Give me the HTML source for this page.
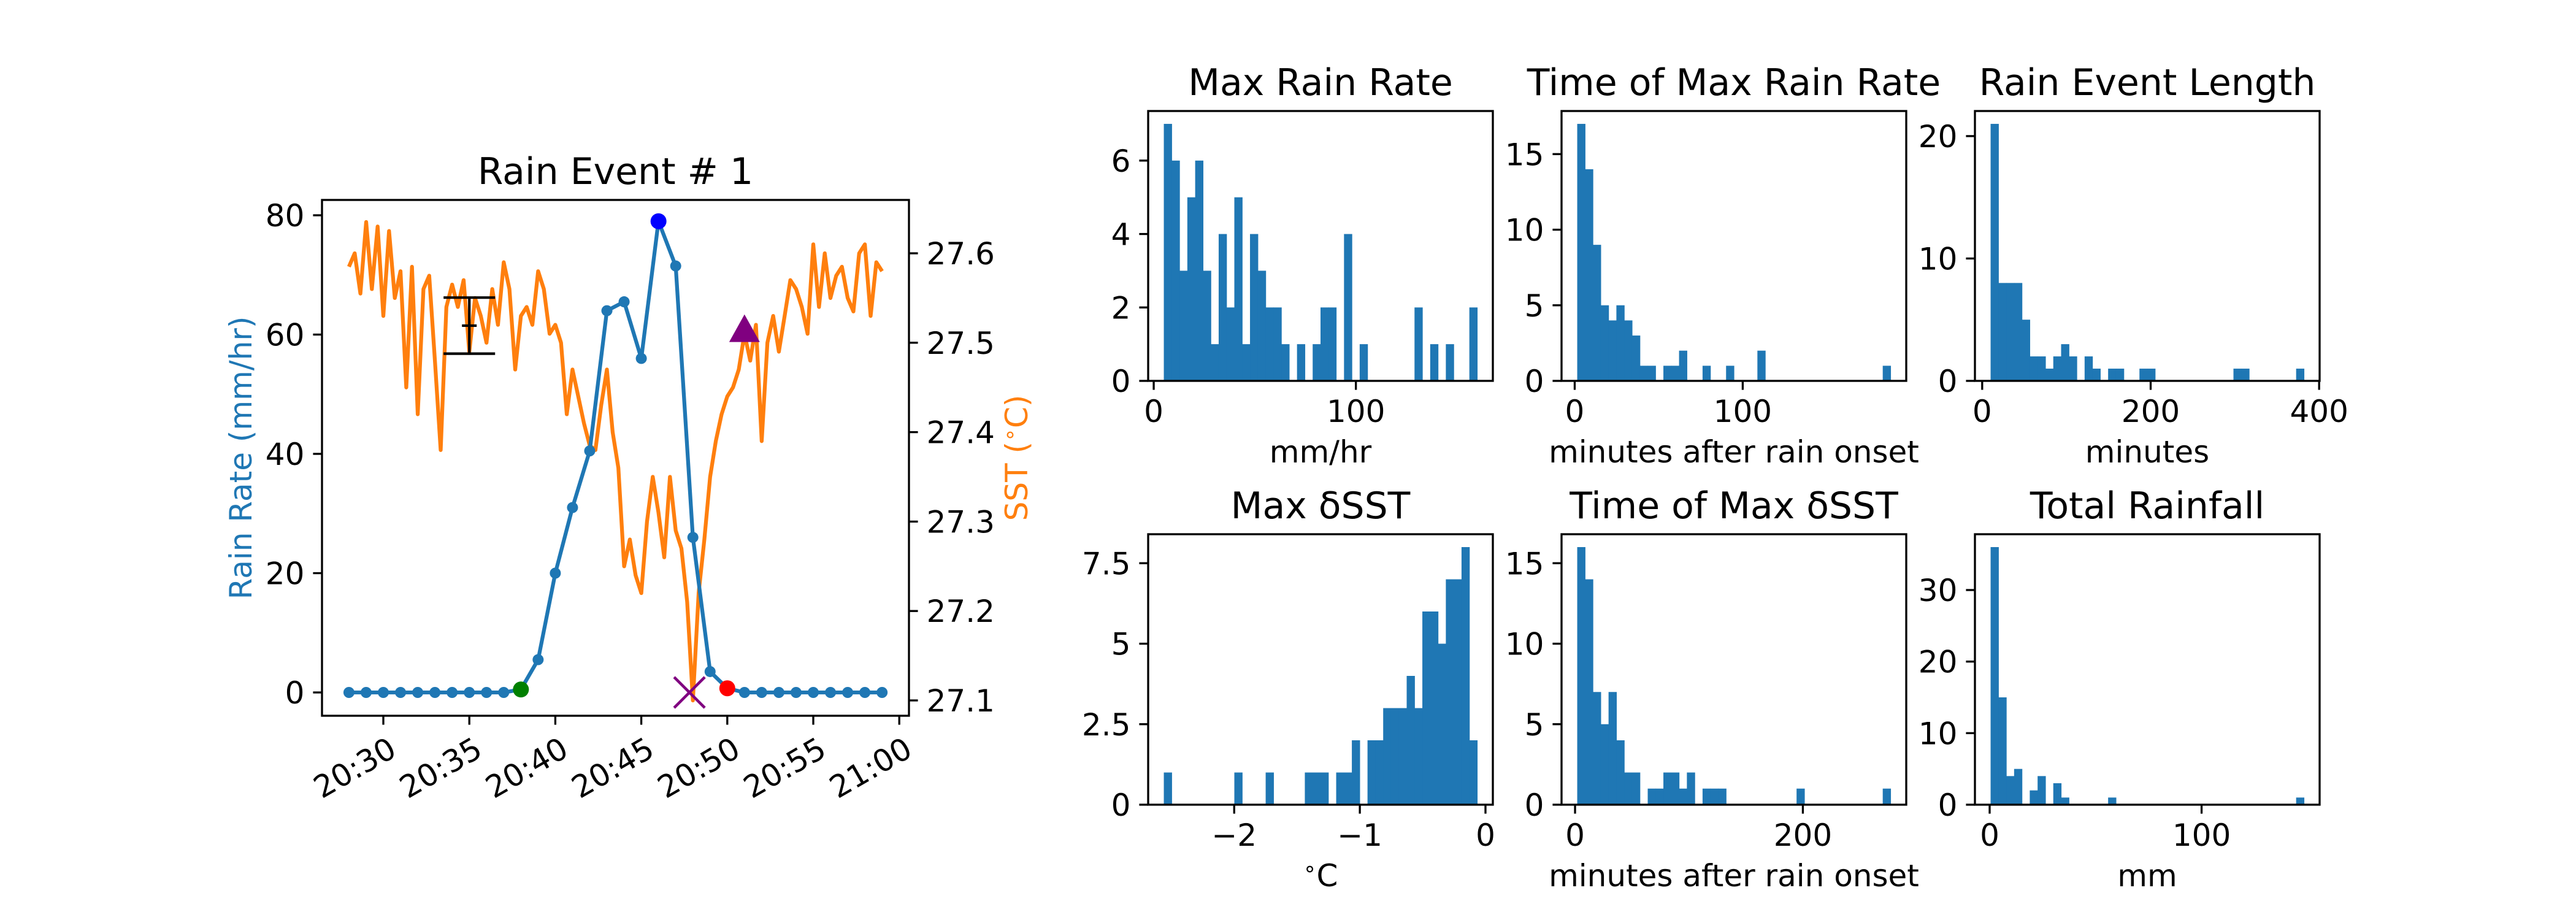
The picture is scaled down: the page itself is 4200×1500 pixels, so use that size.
<!DOCTYPE html>
<html><head><meta charset="utf-8"><title>Rain Event Analysis</title>
<style>
html,body{margin:0;padding:0;background:#fff;}
svg{display:block;font-family:"DejaVu Sans","Liberation Sans",sans-serif;}
</style></head>
<body>
<svg id="fig" width="4200" height="1500" viewBox="0 0 4200 1500" xmlns="http://www.w3.org/2000/svg">
<rect x="0" y="0" width="4200" height="1500" fill="#fff"/>
</svg>
<script>
// ===== Left chart data =====
const rainMinutes = [28,29,30,31,32,33,34,35,36,37,38,39,40,41,42,43,44,45,46,47,48,49,50,51,52,53,54,55,56,57,58,59];
const rainRate = [0,0,0,0,0,0,0,0,0,0,0.5,5.5,20,31,40.5,64,65.5,56,79,71.5,26,3.5,0.7,0,0,0,0,0,0,0,0,0];
const sstStartMinute = 28;
const sstStepMinute = 1/3;
const sstValues = [27.585,27.60,27.555,27.635,27.56,27.63,27.53,27.625,27.55,27.58,27.45,27.585,27.42,27.56,27.575,27.48,27.38,27.54,27.565,27.54,
27.57,27.49,27.55,27.53,27.50,27.56,27.52,27.59,27.56,27.47,27.53,27.54,27.52,27.58,27.56,27.51,27.52,27.50,27.42,27.47,
27.44,27.41,27.385,27.38,27.43,27.47,27.40,27.36,27.25,27.28,27.24,27.22,27.30,27.35,27.31,27.26,27.35,27.29,27.27,27.21,
27.10,27.22,27.28,27.35,27.39,27.42,27.44,27.45,27.47,27.51,27.48,27.52,27.39,27.50,27.53,27.49,27.53,27.57,27.56,27.54,
27.51,27.61,27.54,27.60,27.55,27.575,27.585,27.55,27.535,27.60,27.61,27.53,27.59,27.58];
const onsetPoint = [38, 0.5];
const peakPoint = [46, 79];
const endPoint = [50, 0.7];
const minSstPoint = [47.8, 0];
const recoveryPoint = [51, 60.5];
const errCenter = [35, 61.5];
const errHalf = [4.7];
const rainTicks = [0,20,40,60,80];
const sstTicks = [27.1,27.2,27.3,27.4,27.5,27.6];
const timeTicks = [30,35,40,45,50,55,60];
const timeTickLabels = ["20:30","20:35","20:40","20:45","20:50","20:55","21:00"];

// ===== Histogram data =====
const maxRainCounts = [7,6,3,5,6,3,1,4,2,5, 1,4,3,2,2,1,0,1,0,1, 2,2,0,4,0,1,0,0,0,0, 0,0,2,0,1,0,1,0,0,2];
const maxRainRange = [5,160];
const timeMaxRainCounts = [17,14,9,5,4,5,4,3,1,1, 0,1,1,2,0,0,1,0,0,1, 0,0,0,2,0,0,0,0,0,0, 0,0,0,0,0,0,0,0,0,1];
const timeMaxRainRange = [1.5,188];
const eventLengthCounts = [21,8,8,8,5,2,2,1,2,3, 2,0,2,1,0,1,1,0,0,1, 1,0,0,0,0,0,0,0,0,0, 0,1,1,0,0,0,0,0,0,1];
const eventLengthRange = [10,382];
const maxDsstCounts = [1,0,0,0,0,0,0,0,0,1, 0,0,0,1,0,0,0,0,1,1, 1,0,1,1,2,0,2,2,3,3, 3,4,3,6,6,5,7,7,8,2];
const maxDsstRange = [-2.56,-0.066];
const timeMaxDsstCounts = [16,14,7,5,7,4,2,2,0,1, 1,2,2,1,2,0,1,1,1,0, 0,0,0,0,0,0,0,0,1,0, 0,0,0,0,0,0,0,0,0,1];
const timeMaxDsstRange = [1.9,277];
const totalRainCounts = [36,15,4,5,0,2,4,0,3,1, 0,0,0,0,0,1,0,0,0,0, 0,0,0,0,0,0,0,0,0,0, 0,0,0,0,0,0,0,0,0,1];
const totalRainRange = [0.45,148.3];

const xTicksMaxRain = [0,100];
const yTicksMaxRain = [0,2,4,6];
const xTicksTimeRain = [0,100];
const yTicksTimeRain = [0,5,10,15];
const xTicksLength = [0,200,400];
const yTicksLength = [0,10,20];
const xTicksDsst = [-2,-1,0];
const yTicksDsst = [0,2.5,5,7.5];
const xTicksTimeDsst = [0,200];
const yTicksTimeDsst = [0,5,10,15];
const xTicksTotal = [0,100];
const yTicksTotal = [0,10,20,30];

const NS = "http://www.w3.org/2000/svg";
const svg = document.getElementById("fig");
const BLUE = "#1f77b4", ORANGE = "#ff7f0e";
const FS = 50, TFS = 60, LW = 3.3, TL = 14.6;

function mk(tag, attrs, parent) {
  const e = document.createElementNS(NS, tag);
  for (const k in attrs) e.setAttribute(k, attrs[k]);
  (parent || svg).appendChild(e);
  return e;
}
function txt(str, attrs, parent) {
  const e = mk("text", attrs, parent);
  e.textContent = str;
  return e;
}
function fmt(v) {
  let s = (Math.abs(v % 1) > 1e-9) ? v.toFixed(1) : String(v);
  return s.replace("-", "\u2212");
}

// ===== Left chart =====
(function () {
  const L = 525, R = 1482, T = 326, B = 1167;
  const xT = m => 625 + (m - 30) * 28.04;
  const yR = r => 1129 - r * 9.725;
  const yS = s => 1142 - (s - 27.1) * 1458;
  const g = mk("g", {});
  
  

  let d = "";
  sstValues.forEach((v, i) => {
    const x = xT(sstStartMinute + i * sstStepMinute), y = yS(v);
    d += (i ? "L" : "M") + x.toFixed(1) + "," + y.toFixed(1);
  });
  const sst = mk("path", { d: d, fill: "none", stroke: ORANGE, "stroke-width": 6.25, "stroke-linejoin": "round" }, g);
  
  

  d = "";
  rainRate.forEach((v, i) => { d += (i ? "L" : "M") + xT(rainMinutes[i]).toFixed(1) + "," + yR(v).toFixed(1); });
  const rl = mk("path", { d: d, fill: "none", stroke: BLUE, "stroke-width": 6.25, "stroke-linejoin": "round" }, g);
  
  
  rainRate.forEach((v, i) => {
    const c = mk("circle", { cx: xT(rainMinutes[i]), cy: yR(v), r: 9, fill: BLUE }, g);
    
    
  });

  const ex = xT(errCenter[0]), eyT = yR(errCenter[1] + errHalf[0]), eyB = yR(errCenter[1] - errHalf[0]);
  const eb = mk("g", { stroke: "#000", "stroke-width": 4.2 }, g);
  
  
  mk("line", { x1: ex, y1: eyT, x2: ex, y2: eyB }, eb);
  mk("line", { x1: ex - 42, y1: eyT, x2: ex + 42, y2: eyT }, eb);
  mk("line", { x1: ex - 42, y1: eyB, x2: ex + 42, y2: eyB }, eb);
  const cy = yR(errCenter[1]);
  mk("line", { x1: ex - 12, y1: cy, x2: ex + 12, y2: cy }, eb);

  const gm = mk("circle", { cx: xT(onsetPoint[0]), cy: yR(onsetPoint[1]), r: 13, fill: "#008000" }, g);
  
  
  const bm = mk("circle", { cx: xT(peakPoint[0]), cy: yR(peakPoint[1]), r: 13, fill: "#0000ff" }, g);
  
  
  const rm = mk("circle", { cx: xT(endPoint[0]), cy: yR(endPoint[1]), r: 13, fill: "#ff0000" }, g);
  
  
  const xx = xT(minSstPoint[0]), xy = yR(minSstPoint[1]);
  const xm = mk("path", { d: `M${xx-25},${xy-25}L${xx+25},${xy+25}M${xx-25},${xy+25}L${xx+25},${xy-25}`, stroke: "#800080", "stroke-width": 4.5, fill: "none" }, g);
  
  
  const tx = xT(recoveryPoint[0]), ty = yR(recoveryPoint[1]);
  const tm = mk("path", { d: `M${tx},${ty-28}L${tx+25},${ty+17}L${tx-25},${ty+17}Z`, fill: "#800080" }, g);
  
  

  const fr = mk("rect", { x: L, y: T, width: R - L, height: B - T, fill: "none", stroke: "#000", "stroke-width": LW }, g);
  
  

  rainTicks.forEach(v => {
    const y = yR(v);
    mk("line", { x1: L - TL, y1: y, x2: L, y2: y, stroke: "#000", "stroke-width": LW }, g);
    const t = txt(String(v), { x: L - TL - 14, y: y + 18, "font-size": FS, "text-anchor": "end" }, g);
    
    
  });
  sstTicks.forEach(v => {
    const y = yS(v);
    mk("line", { x1: R, y1: y, x2: R + TL, y2: y, stroke: "#000", "stroke-width": LW }, g);
    const t = txt(v.toFixed(1), { x: R + TL + 14, y: y + 18, "font-size": FS, "text-anchor": "start" }, g);
    
    
  });
  timeTicks.forEach((v, i) => {
    const x = xT(v);
    mk("line", { x1: x, y1: B, x2: x, y2: B + TL, stroke: "#000", "stroke-width": LW }, g);
    const t = txt(timeTickLabels[i], { x: x + 6, y: B + 32, "font-size": FS, "text-anchor": "end", "dominant-baseline": "hanging", transform: `rotate(-30 ${x + 6} ${B + 32})` }, g);
    
    
  });

  const title = txt("Rain Event # 1", { x: (L + R) / 2, y: 300, "font-size": TFS, "text-anchor": "middle" }, g);
  
  
  const yl = txt("Rain Rate (mm/hr)", { x: 410, y: (T + B) / 2, "font-size": FS, "text-anchor": "middle", fill: BLUE, transform: `rotate(-90 410 ${(T + B) / 2})` }, g);
  
  
  const sl = mk("text", { x: 1675, y: (T + B) / 2, "font-size": FS, "text-anchor": "middle", fill: ORANGE, transform: `rotate(-90 1675 ${(T + B) / 2})` }, g);
  
  
  sl.appendChild(document.createTextNode("SST ("));
  const sup = mk("tspan", { "font-size": 35, dy: -17 }, sl); sup.textContent = "\u2218";
  const rest = mk("tspan", { dy: 17 }, sl); rest.textContent = "C)";
})();

// ===== Histograms =====
function hist(cfg) {
  const { L, R, T, B, counts, range, xticks, yticks, title, xlabel, name } = cfg;
  const g = mk("g", {});
  
  
  const lo = range[0], hi = range[1], span = hi - lo;
  const x0 = lo - 0.05 * span, x1 = hi + 0.05 * span;
  const ymax = Math.max(...counts) * 1.05;
  const xs = v => L + (v - x0) / (x1 - x0) * (R - L);
  const ys = v => B - v / ymax * (B - T);
  const bw = span / counts.length;
  counts.forEach((c, i) => {
    if (c <= 0) return;
    const xa = xs(lo + i * bw), xb = xs(lo + (i + 1) * bw);
    const r = mk("rect", { x: xa, y: ys(c), width: xb - xa + 0.6, height: B - ys(c), fill: BLUE }, g);
    
    
  });
  const fr = mk("rect", { x: L, y: T, width: R - L, height: B - T, fill: "none", stroke: "#000", "stroke-width": LW }, g);
  
  
  xticks.forEach(v => {
    const x = xs(v);
    mk("line", { x1: x, y1: B, x2: x, y2: B + TL, stroke: "#000", "stroke-width": LW }, g);
    const t = txt(fmt(v), { x: x, y: B + 67, "font-size": FS, "text-anchor": "middle" }, g);
    
    
  });
  yticks.forEach(v => {
    const y = ys(v);
    mk("line", { x1: L - TL, y1: y, x2: L, y2: y, stroke: "#000", "stroke-width": LW }, g);
    const t = txt(fmt(v), { x: L - TL - 14, y: y + 18, "font-size": FS, "text-anchor": "end" }, g);
    
    
  });
  const tt = txt(title, { x: (L + R) / 2, y: T - 26, "font-size": TFS, "text-anchor": "middle" }, g);
  
  
  const xl = mk("text", { x: (L + R) / 2, y: B + 133, "font-size": FS, "text-anchor": "middle" }, g);
  
  
  if (xlabel === "degC") {
    const s = mk("tspan", { "font-size": 35, dy: -17 }, xl); s.textContent = "\u2218";
    const c = mk("tspan", { dy: 17 }, xl); c.textContent = "C";
  } else {
    xl.textContent = xlabel;
  }
}
const C1 = [1872, 2434], C2 = [2546, 3108], C3 = [3220, 3782];
const R1 = [181, 621], R2 = [871, 1312];
hist({ L: C1[0], R: C1[1], T: R1[0], B: R1[1], counts: maxRainCounts, range: maxRainRange, xticks: xTicksMaxRain, yticks: yTicksMaxRain, title: "Max Rain Rate", xlabel: "mm/hr", name: "max-rain-rate-histogram" });
hist({ L: C2[0], R: C2[1], T: R1[0], B: R1[1], counts: timeMaxRainCounts, range: timeMaxRainRange, xticks: xTicksTimeRain, yticks: yTicksTimeRain, title: "Time of Max Rain Rate", xlabel: "minutes after rain onset", name: "time-of-max-rain-histogram" });
hist({ L: C3[0], R: C3[1], T: R1[0], B: R1[1], counts: eventLengthCounts, range: eventLengthRange, xticks: xTicksLength, yticks: yTicksLength, title: "Rain Event Length", xlabel: "minutes", name: "rain-event-length-histogram" });
hist({ L: C1[0], R: C1[1], T: R2[0], B: R2[1], counts: maxDsstCounts, range: maxDsstRange, xticks: xTicksDsst, yticks: yTicksDsst, title: "Max \u03b4SST", xlabel: "degC", name: "max-dsst-histogram" });
hist({ L: C2[0], R: C2[1], T: R2[0], B: R2[1], counts: timeMaxDsstCounts, range: timeMaxDsstRange, xticks: xTicksTimeDsst, yticks: yTicksTimeDsst, title: "Time of Max \u03b4SST", xlabel: "minutes after rain onset", name: "time-of-max-dsst-histogram" });
hist({ L: C3[0], R: C3[1], T: R2[0], B: R2[1], counts: totalRainCounts, range: totalRainRange, xticks: xTicksTotal, yticks: yTicksTotal, title: "Total Rainfall", xlabel: "mm", name: "total-rainfall-histogram" });
</script>
</body></html>
